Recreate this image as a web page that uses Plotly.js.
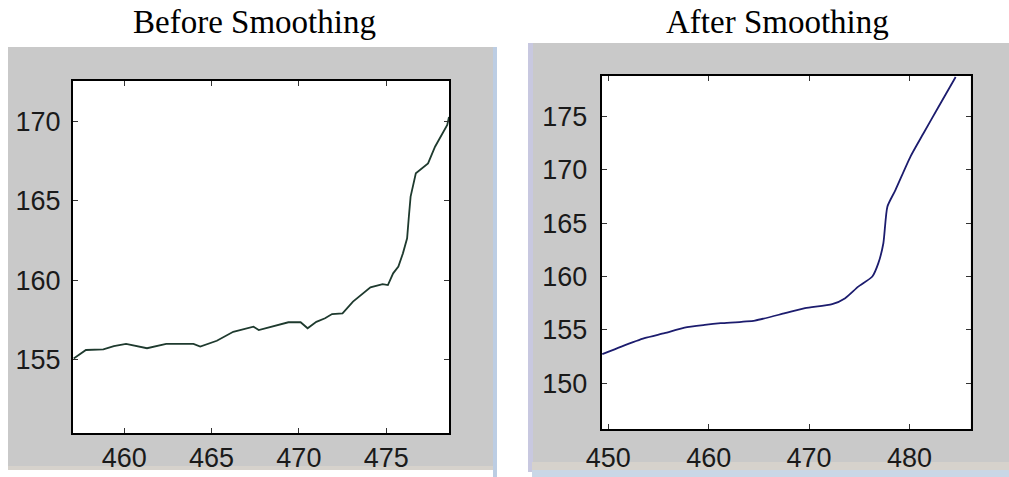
<!DOCTYPE html>
<html>
<head>
<meta charset="utf-8">
<script src="https://cdn.plot.ly/plotly-3.0.1.min.js"></script>
<style>html,body{margin:0;padding:0;background:#fff;}#chart{width:1009px;height:477px;}</style>
</head>
<body>
<div id="chart"></div>
<script>
// Before smoothing (raw trajectory)
const beforeX = [457.1, 457.8, 458.8, 459.4, 460.1, 460.7, 461.3, 462.4, 463.96, 464.35, 465.3, 466.24, 467.4, 467.7, 468.9, 469.4, 470.1, 470.5, 471.0, 471.5, 471.9, 472.5, 473.1, 474.1, 474.8, 475.1, 475.4, 475.7, 475.96, 476.2, 476.3, 476.4, 476.7, 477.4, 477.8, 478.5, 478.6];
const beforeY = [155.06, 155.59, 155.63, 155.84, 155.97, 155.84, 155.7, 155.97, 155.97, 155.8, 156.17, 156.74, 157.06, 156.85, 157.17, 157.34, 157.34, 156.96, 157.37, 157.59, 157.86, 157.9, 158.64, 159.55, 159.75, 159.69, 160.43, 160.85, 161.69, 162.64, 164.0, 165.27, 166.74, 167.37, 168.42, 169.79, 170.3];
// After smoothing
const afterX = [449.4, 451.3, 453.6, 455.6, 457.6, 459.6, 461.2, 464.6, 467.6, 469.6, 472.3, 473.6, 474.9, 476.3, 476.9, 477.4, 477.8, 478.6, 480.1, 481.4, 482.9, 484.6];
const afterY = [152.72, 153.43, 154.22, 154.69, 155.21, 155.46, 155.62, 155.87, 156.56, 157.03, 157.4, 157.97, 159.05, 160.0, 161.25, 163.12, 166.55, 168.1, 171.24, 173.43, 175.92, 178.7];
const beforeTicks = [460, 465, 470, 475];
const beforeYTicks = [155, 160, 165, 170];
const afterTicks = [450, 460, 470, 480];
const afterYTicks = [150, 155, 160, 165, 170, 175];
const titles = ["Before Smoothing", "After Smoothing"];

const W = 1009, H = 477;
const px = v => v / W;
const py = v => 1 - v / H;

const tickFont = {family: "Liberation Sans, Arial, sans-serif", size: 27, color: "#1a1a1a"};
function axisBase(extra) {
  return Object.assign({
    showgrid: false, zeroline: false, showline: true, mirror: "ticks",
    linecolor: "#000", linewidth: 2, ticks: "inside", ticklen: 5, tickwidth: 1,
    tickcolor: "#333", tickfont: tickFont, tickmode: "array", fixedrange: true
  }, extra);
}

const traces = [
  {x: beforeX, y: beforeY, type: "scatter", mode: "lines", xaxis: "x", yaxis: "y",
   line: {color: "#1e3a2e", width: 1.8}, hoverinfo: "skip"},
  {x: afterX, y: afterY, type: "scatter", mode: "lines", xaxis: "x2", yaxis: "y2",
   line: {color: "#1c1c6e", width: 1.8, shape: "spline", smoothing: 0.6}, hoverinfo: "skip"}
];

const layout = {
  width: W, height: H, margin: {l: 0, r: 0, t: 0, b: 0},
  paper_bgcolor: "#ffffff", plot_bgcolor: "rgba(0,0,0,0)", showlegend: false,
  xaxis: axisBase({domain: [px(73), px(449)], range: [457.06, 478.6], tickvals: beforeTicks, anchor: "y", ticklabelstandoff: 0}),
  yaxis: axisBase({domain: [1 - 433 / H, 1 - 81 / H], range: [150.35, 172.57], tickvals: beforeYTicks, anchor: "x", ticklabelstandoff: 5}),
  xaxis2: axisBase({domain: [px(601.7), px(970.7)], range: [449.34, 486.1], tickvals: afterTicks, anchor: "y2", ticklabelstandoff: 4}),
  yaxis2: axisBase({domain: [1 - 429 / H, 1 - 76 / H], range: [145.7, 178.8], tickvals: afterYTicks, anchor: "x2", ticklabelstandoff: 7}),
  shapes: [
    {type: "rect", xref: "paper", yref: "paper", x0: px(8), x1: px(493), y0: py(466), y1: py(47), fillcolor: "#c9c9c9", line: {width: 0}, layer: "below"},
    {type: "rect", xref: "paper", yref: "paper", x0: px(493), x1: px(497), y0: py(477), y1: py(47), fillcolor: "#bccde3", line: {width: 0}, layer: "below"},
    {type: "rect", xref: "paper", yref: "paper", x0: px(532), x1: px(1009), y0: py(462), y1: py(43), fillcolor: "#c9c9c9", line: {width: 0}, layer: "below"},
    {type: "rect", xref: "paper", yref: "paper", x0: px(528), x1: px(533), y0: py(472), y1: py(43), fillcolor: "#c8c8e0", line: {width: 0}, layer: "below"},
    {type: "rect", xref: "paper", yref: "paper", x0: px(532), x1: px(1009), y0: py(470), y1: py(462), fillcolor: "#d6d2cc", line: {width: 0}, layer: "below"},
    {type: "rect", xref: "paper", yref: "paper", x0: px(532), x1: px(1009), y0: py(477), y1: py(470), fillcolor: "#c9d7e6", line: {width: 0}, layer: "below"},
    {type: "rect", xref: "paper", yref: "paper", x0: px(8), x1: px(493), y0: py(470), y1: py(466), fillcolor: "#d6d2cc", line: {width: 0}, layer: "below"},
    {type: "rect", xref: "x domain", yref: "y domain", x0: 0, x1: 1, y0: 0, y1: 1, fillcolor: "#ffffff", line: {width: 0}, layer: "below"},
    {type: "rect", xref: "x2 domain", yref: "y2 domain", x0: 0, x1: 1, y0: 0, y1: 1, fillcolor: "#ffffff", line: {width: 0}, layer: "below"}
  ],
  annotations: [
    {text: titles[0], xref: "paper", yref: "paper", x: px(254.5), y: py(22), xanchor: "center", yanchor: "middle", showarrow: false,
     font: {family: "Liberation Serif, serif", size: 33, color: "#000"}},
    {text: titles[1], xref: "paper", yref: "paper", x: px(777), y: py(22), xanchor: "center", yanchor: "middle", showarrow: false,
     font: {family: "Liberation Serif, serif", size: 33, color: "#000"}}
  ]
};

Plotly.newPlot("chart", traces, layout, {staticPlot: true, displayModeBar: false});
</script>
</body>
</html>
